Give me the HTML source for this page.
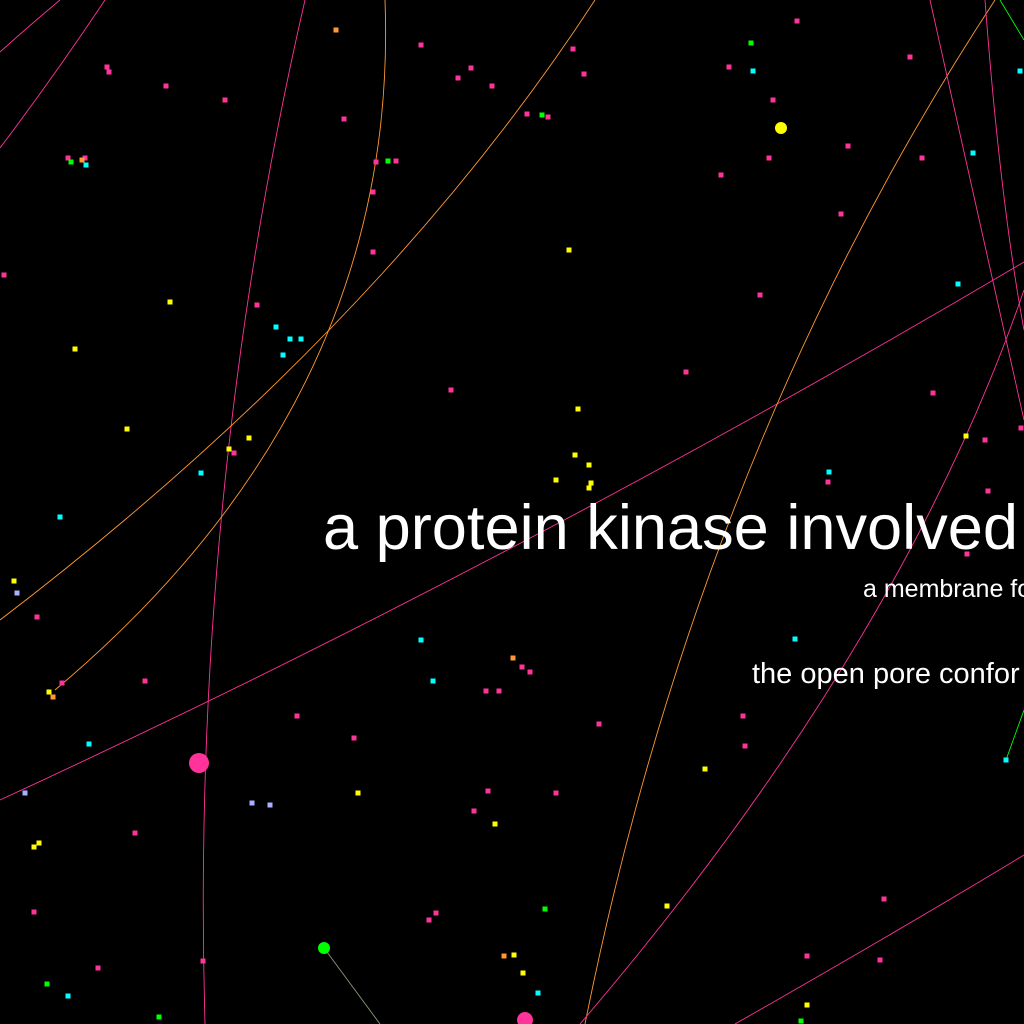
<!DOCTYPE html>
<html><head><meta charset="utf-8"><style>
html,body{margin:0;padding:0;background:#000;width:1024px;height:1024px;overflow:hidden}
svg{display:block}
text{font-family:"Liberation Sans",sans-serif;fill:#fff}
</style></head><body>
<svg id="chart" width="1024" height="1024" viewBox="0 0 1024 1024">
<rect width="1024" height="1024" fill="#000"/>
<g id="edges"></g>
<g id="nodes"></g>
<text x="323" y="549" font-size="63" textLength="695" lengthAdjust="spacingAndGlyphs">a protein kinase involved</text>
<text x="863" y="597" font-size="25">a membrane fo</text>
<text x="752" y="683" font-size="29">the open pore confor</text>
</svg>
<script>
const colors = {p:"#ff3399",c:"#00ffff",y:"#ffff00",g:"#00ff00",o:"#ff9933",l:"#aab0ff"};
const pinkNodes = [[107,67],[109,72],[166,86],[225,100],[68,158],[85,158],[344,119],[421,45],[471,68],[458,78],[492,86],[527,114],[548,117],[573,49],[584,74],[376,162],[396,161],[373,192],[373,252],[257,305],[451,390],[234,453],[4,275],[37,617],[62,683],[145,681],[297,716],[354,738],[486,691],[499,691],[522,667],[530,672],[599,724],[488,791],[474,811],[556,793],[135,833],[34,912],[98,968],[203,961],[429,920],[436,913],[797,21],[729,67],[773,100],[721,175],[769,158],[848,146],[910,57],[922,158],[841,214],[760,295],[686,372],[933,393],[985,440],[1021,428],[988,491],[828,482],[967,554],[743,716],[745,746],[884,899],[807,956],[880,960]];
const cyanNodes = [[86,165],[276,327],[290,339],[301,339],[283,355],[201,473],[60,517],[421,640],[433,681],[89,744],[68,996],[538,993],[753,71],[973,153],[958,284],[829,472],[795,639],[1006,760],[1020,71]];
const yellowNodes = [[170,302],[75,349],[127,429],[229,449],[249,438],[569,250],[578,409],[575,455],[589,465],[591,483],[589,488],[556,480],[14,581],[49,692],[358,793],[495,824],[39,843],[34,847],[514,955],[523,973],[667,906],[705,769],[807,1005],[966,436]];
const greenNodes = [[71,162],[388,161],[542,115],[751,43],[545,909],[159,1017],[47,984],[801,1021]];
const orangeNodes = [[336,30],[82,160],[53,697],[513,658],[504,956]];
const lavenderNodes = [[17,593],[25,793],[252,803],[270,805]];
const bigNodes = [[781,128,6,"y"],[199,763,10,"p"],[324,948,6,"g"],[525,1020,8,"p"]];
const edgeList = [
 ["p","M0,800 Q520,560 1024,262"],
 ["p","M305,0 Q190,500 205,1024"],
 ["o","M385,0 Q400,400 55,690"],
 ["o","M595,0 Q380,330 0,620"],
 ["p","M0,52 Q30,25 60,0"],
 ["p","M0,148 Q55,75 105,0"],
 ["o","M995,0 Q700,450 585,1024"],
 ["p","M1024,290 Q900,650 580,1024"],
 ["p","M930,0 Q980,220 1024,420"],
 ["p","M985,0 Q1000,200 1024,330"],
 ["p","M735,1024 Q900,930 1024,855"],
 ["g","M1000,0 L1024,40"],
 ["g","M1006,760 L1024,710"],
 ["l2","M324,948 L380,1024"]
];
const NS="http://www.w3.org/2000/svg";
const eg=document.getElementById('edges'), ng=document.getElementById('nodes');
edgeList.forEach((e,i)=>{
 const p=document.createElementNS(NS,'path');
 p.setAttribute('d',e[1]);
 p.setAttribute('fill','none');
 p.setAttribute('stroke',e[0]==="l2"?"#889977":colors[e[0]]);
 p.setAttribute('stroke-width','0.9');
 
 
 eg.appendChild(p);
});
function drawSet(arr,c,name){
 arr.forEach((d,i)=>{
  const r=document.createElementNS(NS,'rect');
  r.setAttribute('x',d[0]-2.5);r.setAttribute('y',d[1]-2.5);
  r.setAttribute('width',5);r.setAttribute('height',5);
  r.setAttribute('fill',colors[c]);
  
  
  ng.appendChild(r);
 });
}
drawSet(pinkNodes,"p","pink");drawSet(cyanNodes,"c","cyan");drawSet(yellowNodes,"y","yellow");
drawSet(greenNodes,"g","green");drawSet(orangeNodes,"o","orange");drawSet(lavenderNodes,"l","lavender");
bigNodes.forEach((d,i)=>{
 const c=document.createElementNS(NS,'circle');
 c.setAttribute('cx',d[0]);c.setAttribute('cy',d[1]);c.setAttribute('r',d[2]);
 c.setAttribute('fill',colors[d[3]]);
 
 
 ng.appendChild(c);
});
</script>
</body></html>
